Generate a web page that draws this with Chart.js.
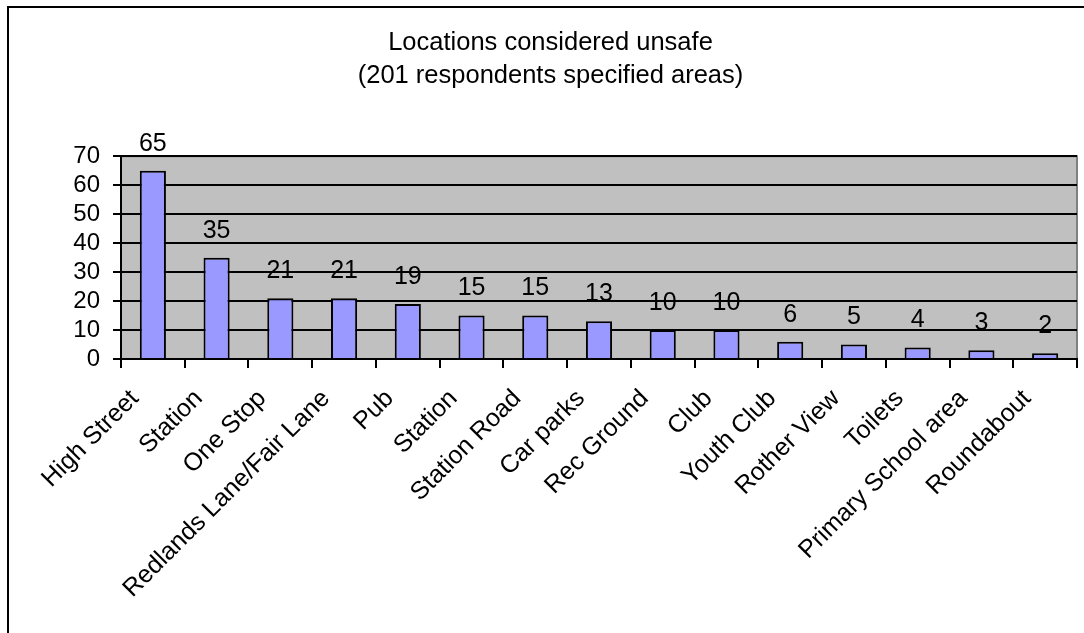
<!DOCTYPE html>
<html>
<head>
<meta charset="utf-8">
<script src="https://cdn.jsdelivr.net/npm/chart.js@4/dist/chart.umd.min.js"></script>
<style>
  html, body { margin: 0; padding: 0; background: #fff; }
  #wrap { width: 1084px; height: 633px; }
</style>
</head>
<body>
<div id="wrap"><canvas id="chart" width="1084" height="633"></canvas></div>
<script>
const locations = [
  "High Street", "Station", "One Stop", "Redlands Lane/Fair Lane", "Pub",
  "Station", "Station Road", "Car parks", "Rec Ground", "Club",
  "Youth Club", "Rother View", "Toilets", "Primary School area", "Roundabout"
];
const counts = [65, 35, 21, 21, 19, 15, 15, 13, 10, 10, 6, 5, 4, 3, 2];
const titleLines = ["Locations considered unsafe", "(201 respondents specified areas)"];

const FONT = "'Liberation Sans', Arial, sans-serif";

// grey plot area + outer frame
const frame = {
  id: "frame",
  afterLayout(chart) {
    // title sits a little right of the canvas centre
    chart.titleBlock.left += 7;
    chart.titleBlock.right += 7;
  },
  beforeDraw(chart) {
    const ctx = chart.ctx;
    const a = chart.chartArea;
    ctx.save();
    ctx.strokeStyle = "#000";
    ctx.lineWidth = 2;
    ctx.beginPath();
    ctx.moveTo(8, 700);
    ctx.lineTo(8, 7);
    ctx.lineTo(1100, 7);
    ctx.stroke();
    ctx.fillStyle = "#c0c0c0";
    ctx.fillRect(a.left, a.top, a.right - a.left, a.bottom - a.top);
    ctx.strokeStyle = "#808080";
    ctx.beginPath();
    ctx.moveTo(a.left, a.top);
    ctx.lineTo(a.right, a.top);
    ctx.lineTo(a.right, a.bottom);
    ctx.stroke();
    ctx.restore();
  }
};

// value labels above the bars
const valueLabels = {
  id: "valueLabels",
  afterDatasetsDraw(chart) {
    const ctx = chart.ctx;
    const meta = chart.getDatasetMeta(0);
    ctx.save();
    ctx.font = "25px " + FONT;
    ctx.fillStyle = "#000";
    ctx.textAlign = "center";
    ctx.textBaseline = "middle";
    meta.data.forEach((bar, i) => {
      ctx.fillText(String(counts[i]), bar.x, bar.y - 27);
    });
    ctx.restore();
  }
};

new Chart(document.getElementById("chart"), {
  type: "bar",
  data: {
    labels: locations,
    datasets: [{
      data: counts,
      backgroundColor: "#9999ff",
      borderColor: "#000",
      borderWidth: 2,
      barPercentage: 0.41,
      categoryPercentage: 1
    }]
  },
  options: {
    responsive: false,
    animation: false,
    layout: { padding: { left: 10, right: 7, top: 0, bottom: 0 } },
    plugins: {
      legend: { display: false },
      tooltip: { enabled: false },
      title: {
        display: true,
        text: titleLines,
        color: "#000",
        font: { family: FONT, size: 25.5, weight: "normal", lineHeight: 1.3 },
        padding: { top: 26, bottom: 64 }
      }
    },
    scales: {
      x: {
        grid: { display: true, drawOnChartArea: false, color: "#000", lineWidth: 2, tickLength: 9, offset: true },
        border: { color: "#000", width: 2 },
        ticks: {
          color: "#000",
          font: { family: FONT, size: 25 },
          minRotation: 45,
          maxRotation: 45,
          autoSkip: false,
          padding: 16,
          labelOffset: -18
        },
        afterFit(scale) { scale.height = 274; }
      },
      y: {
        min: 0,
        max: 70,
        grid: { color: "#000", lineWidth: 2, tickLength: 8 },
        border: { color: "#000", width: 2 },
        ticks: {
          stepSize: 10,
          autoSkip: false,
          color: "#000",
          font: { family: FONT, size: 24 },
          padding: 13
        },
        afterFit(scale) { scale.width = 111; }
      }
    }
  },
  plugins: [frame, valueLabels]
});
</script>
</body>
</html>
